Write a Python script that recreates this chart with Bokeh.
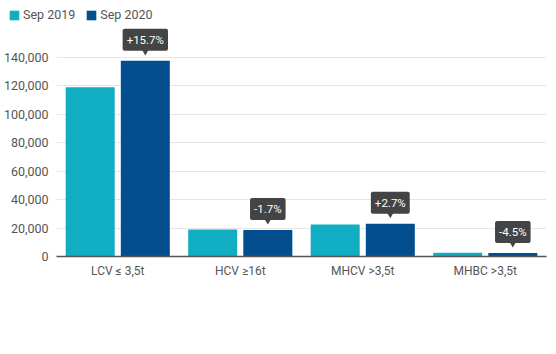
from bokeh.plotting import figure
from bokeh.layouts import column
from bokeh.models import (ColumnDataSource, FactorRange, Range1d, FixedTicker,
                          NumeralTickFormatter, Legend, LegendItem)
from bokeh.transform import dodge
from bokeh.core.properties import value
from bokeh.embed import file_html
from bokeh.resources import INLINE

categories = ["LCV ≤ 3,5t", "HCV ≥16t", "MHCV >3,5t", "MHBC >3,5t"]
sep_2019 = [119000, 19000, 22500, 2600]
sep_2020 = [137700, 18680, 23100, 2480]
changes = ["+15.7%", "-1.7%", "+2.7%", "-4.5%"]
y_ticks = [0, 20000, 40000, 60000, 80000, 100000, 120000, 140000]
series_names = ["Sep 2019", "Sep 2020"]

TEAL = "#11adc3"
NAVY = "#034e8f"
FONT = "Roboto"
TXT = "#555555"

# ---- legend strip ----
top = figure(width=556, height=26, x_range=Range1d(0, 1), y_range=Range1d(0, 1),
             x_axis_location=None, y_axis_location=None,
             output_backend="svg", toolbar_location=None,
             min_border_left=0, min_border_right=0, min_border_top=0, min_border_bottom=0)
try:
    top.frame_align = False
except Exception:
    pass
top.grid.visible = False
top.outline_line_color = None
top.border_fill_color = "white"
# zero-height placeholder bars: only the legend swatches are visible
hidden = ColumnDataSource(dict(x=[5], t=[0]))
l1 = top.vbar(x="x", top="t", width=0.001, source=hidden, fill_color=TEAL, line_color=None)
l2 = top.vbar(x="x", top="t", width=0.001, source=hidden, fill_color=NAVY, line_color=None)
legend = Legend(items=[LegendItem(label=series_names[0], renderers=[l1]),
                       LegendItem(label=series_names[1], renderers=[l2])],
                orientation="horizontal", location=(8, 4),
                glyph_width=12, glyph_height=12, label_height=12,
                label_text_font=FONT, label_text_font_size="12.5px",
                label_text_color=TXT, label_text_baseline="middle",
                label_standoff=3, spacing=10, padding=0, margin=0,
                border_line_color=None, background_fill_alpha=0)
top.add_layout(legend)

# ---- main chart ----
frame_h = 230
y_end = 161800
px = y_end / frame_h  # data units per pixel

src = ColumnDataSource(dict(
    cat=categories, a=sep_2019, b=sep_2020, chg=changes,
    tri=[v + 10 * px for v in sep_2020],
))

p = figure(width=556, height=328, x_range=FactorRange(*categories, range_padding=0),
           y_range=Range1d(0, y_end), output_backend="svg", toolbar_location=None,
           min_border_left=56, min_border_right=10, min_border_top=0, min_border_bottom=98)
try:
    p.frame_align = False
except Exception:
    pass
p.outline_line_color = None

p.vbar(x=dodge("cat", -0.225, range=p.x_range), top="a", width=0.4, source=src,
       fill_color=TEAL, line_color=None)
p.vbar(x=dodge("cat", 0.225, range=p.x_range), top="b", width=0.4, source=src,
       fill_color=NAVY, line_color=None)

p.scatter(x=dodge("cat", 0.225, range=p.x_range), y="tri", source=src, marker="inverted_triangle",
          size=8, fill_color="#444444", line_color=None)
p.text(x=dodge("cat", 0.225, range=p.x_range), y="b", text="chg", source=src,
       y_offset=-21, text_align="center", text_baseline="middle",
       text_color="white", text_font=value(FONT), text_font_size="11.5px",
       background_fill_color="#444444", padding=4, border_radius=2)

p.yaxis.ticker = FixedTicker(ticks=y_ticks)
p.yaxis.formatter = NumeralTickFormatter(format="0,0")
p.yaxis.axis_line_color = None
p.yaxis.major_tick_line_color = None
p.yaxis.minor_tick_line_color = None
p.yaxis.major_tick_out = 0
p.yaxis.minor_tick_out = 0
p.yaxis.major_label_text_color = TXT
p.yaxis.major_label_text_font = FONT
p.yaxis.major_label_text_font_size = "12.5px"
p.yaxis.major_label_standoff = 8

p.xaxis.axis_line_color = TXT
p.xaxis.axis_line_width = 1.5
p.xaxis.major_tick_line_color = None
p.xaxis.minor_tick_line_color = None
p.xaxis.major_tick_out = 0
p.xaxis.minor_tick_out = 0
p.xaxis.major_label_text_color = TXT
p.xaxis.major_label_text_font = FONT
p.xaxis.major_label_text_font_size = "12px"
p.xaxis.major_label_standoff = 7

p.xgrid.grid_line_color = None
p.ygrid.grid_line_color = "#e6e6e6"

layout = column(top, p, spacing=0)
open("out.html", "w").write(file_html(layout, INLINE))
